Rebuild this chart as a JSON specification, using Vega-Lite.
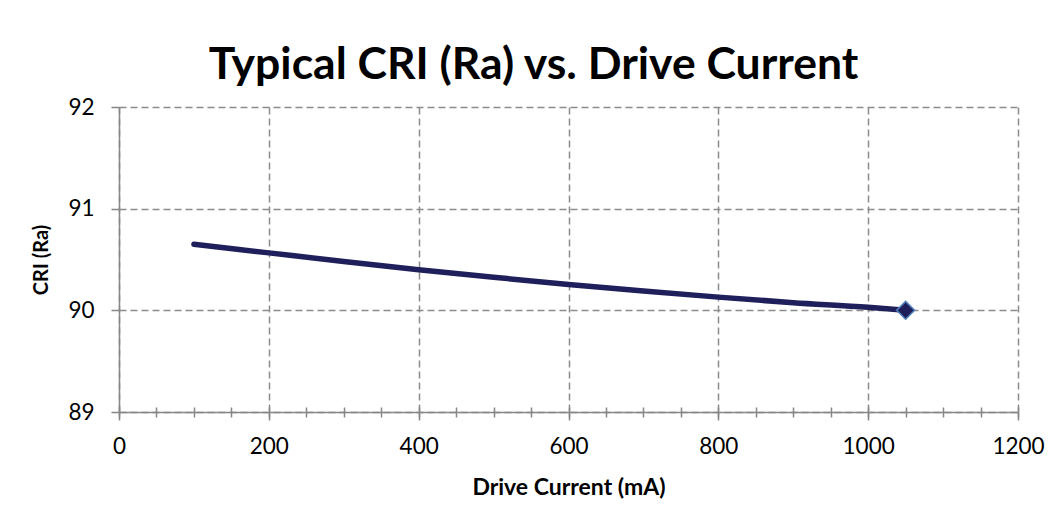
{
  "$schema": "https://vega.github.io/schema/vega-lite/v6.json",
  "width": 899,
  "height": 305,
  "autosize": {"type": "none"},
  "padding": {"left": 119, "top": 107, "right": 30, "bottom": 98},
  "background": "white",
  "config": {"view": {"stroke": null}, "font": "Lato"},
  "title": {
    "text": "Typical CRI (Ra) vs. Drive Current",
    "fontSize": 44.5,
    "fontWeight": "bold",
    "font": "Lato",
    "color": "black",
    "anchor": "middle",
    "frame": "group",
    "dx": -35,
    "offset": 8
  },
  "datasets": {
    "curve": [
      {"current": 100, "cri": 90.65},
      {"current": 200, "cri": 90.565},
      {"current": 300, "cri": 90.48},
      {"current": 400, "cri": 90.4},
      {"current": 500, "cri": 90.325},
      {"current": 600, "cri": 90.255},
      {"current": 700, "cri": 90.19},
      {"current": 800, "cri": 90.13},
      {"current": 900, "cri": 90.075},
      {"current": 1000, "cri": 90.03},
      {"current": 1050, "cri": 90.0}
    ],
    "marker": [
      {"current": 1050, "cri": 90.0}
    ]
  },
  "encoding": {
    "y": {
      "field": "cri",
      "type": "quantitative",
      "scale": {"domain": [89, 92], "nice": false, "zero": false},
      "axis": {
        "values": [89, 90, 91, 92],
        "format": "d",
        "grid": true,
        "gridDash": [7, 4],
        "gridColor": "#8c8c8c",
        "gridWidth": 1.5,
        "domainColor": "#868686",
        "domainWidth": 1.5,
        "tickColor": "#868686",
        "tickWidth": 1.5,
        "tickSize": 8,
        "labelFontSize": 22.5,
        "labelColor": "black",
        "labelPadding": 17,
        "title": "CRI (Ra)",
        "titleFontSize": 20,
        "titleFontWeight": "bold",
        "titleColor": "black",
        "titlePadding": 16
      }
    }
  },
  "layer": [
    {
      "data": {"name": "curve"},
      "mark": {"type": "line", "color": "#1f1f5c", "strokeWidth": 5.5, "strokeCap": "round", "interpolate": "monotone"},
      "encoding": {
        "x": {
          "field": "current",
          "type": "quantitative",
          "scale": {"domain": [0, 1200], "nice": false},
          "axis": {
            "orient": "bottom",
            "values": [0, 200, 400, 600, 800, 1000, 1200],
            "format": "d",
            "labelFlush": false,
            "grid": true,
            "gridDash": [7, 4],
            "gridColor": "#8c8c8c",
            "gridWidth": 1.5,
            "domainColor": "#868686",
            "domainWidth": 1.5,
            "tickColor": "#868686",
            "tickWidth": 1.5,
            "tickSize": 8,
            "labelFontSize": 22.5,
            "labelColor": "black",
            "labelPadding": 15,
            "title": "Drive Current (mA)",
            "titleFontSize": 23,
            "titleFontWeight": "bold",
            "titleColor": "black",
            "titlePadding": 19
          }
        }
      }
    },
    {
      "data": {"name": "marker"},
      "mark": {"type": "point", "shape": "diamond", "filled": true, "size": 320, "color": "#1f1f5c", "stroke": "#4f81bd", "strokeWidth": 1.5, "opacity": 1},
      "encoding": {
        "x": {
          "field": "current",
          "type": "quantitative",
          "axis": {
            "orient": "bottom",
            "values": [0, 50, 100, 150, 200, 250, 300, 350, 400, 450, 500, 550, 600, 650, 700, 750, 800, 850, 900, 950, 1000, 1050, 1100, 1150, 1200],
            "domain": false,
            "grid": false,
            "labels": false,
            "ticks": true,
            "tickSize": 10,
            "tickColor": "#868686",
            "tickWidth": 1.5,
            "offset": -5,
            "title": null
          }
        }
      }
    }
  ],
  "resolve": {"axis": {"x": "independent"}}
}
